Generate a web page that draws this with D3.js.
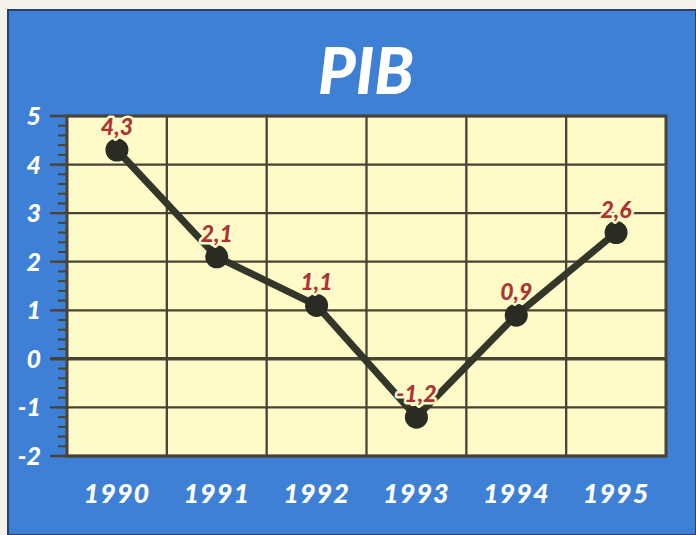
<!DOCTYPE html>
<html>
<head>
<meta charset="utf-8">
<script src="https://cdn.jsdelivr.net/npm/d3@7"></script>
<style>
  body { margin: 0; background: #f4f3ec; }
  svg { display: block; }
</style>
</head>
<body>
<div id="chart"></div>
<script>
// Data
//////////////////////////////////////////////////////////////////////
var years = ["1990", "1991", "1992", "1993", "1994", "1995"];
var values = [4.3, 2.1, 1.1, -1.2, 0.9, 2.6];
var yTicks = [-2, -1, 0, 1, 2, 3, 4, 5];

// Variables
//////////////////////////////////////////////////////////////////////
var width = 696, height = 535;
var blue = "#3d80d6";
var plotFill = "#fefbc8";
var gridColor = "#4a4234";
var lineColor = "#34362a";
var labelColor = "#ad3434";
var font = "Lato, 'Open Sans', sans-serif";
var plot = { left: 67, right: 666, top: 116, bottom: 456 };

var x = d3.scaleBand().domain(years).range([plot.left, plot.right]);
var y = d3.scaleLinear().domain([-2, 5]).range([plot.bottom, plot.top]);

var svg = d3.select("#chart").append("svg")
  .attr("width", width)
  .attr("height", height);

// blue panel
svg.append("rect")
  .attr("x", 8).attr("y", 10)
  .attr("width", width - 8).attr("height", height - 10)
  .attr("fill", blue)
  .attr("stroke", "#2c3f66").attr("stroke-width", 2);

// title
svg.append("text")
  .attr("x", 366).attr("y", 94)
  .attr("text-anchor", "middle")
  .attr("font-family", font)
  .attr("font-weight", 900)
  .attr("font-style", "italic")
  .attr("font-size", 64)
  .attr("fill", "#ffffff")
  .text("PIB");

// plot background
svg.append("rect")
  .attr("x", plot.left).attr("y", plot.top)
  .attr("width", plot.right - plot.left).attr("height", plot.bottom - plot.top)
  .attr("fill", plotFill);

// minor ticks on the left axis
var minor = d3.range(-2, 5.001, 0.2);
svg.append("g")
  .selectAll("line")
  .data(minor)
  .join("line")
  .attr("x1", plot.left - 9).attr("x2", plot.left)
  .attr("y1", d => y(d)).attr("y2", d => y(d))
  .attr("stroke", gridColor).attr("stroke-width", 2);

// horizontal grid + major ticks
svg.append("g")
  .selectAll("line")
  .data(yTicks)
  .join("line")
  .attr("x1", plot.left - 17).attr("x2", plot.right)
  .attr("y1", d => y(d)).attr("y2", d => y(d))
  .attr("stroke", gridColor)
  .attr("stroke-width", d => d === 0 ? 3.5 : 2.3);

// vertical grid (column boundaries)
svg.append("g")
  .selectAll("line")
  .data(years.slice(1))
  .join("line")
  .attr("x1", d => x(d)).attr("x2", d => x(d))
  .attr("y1", plot.top).attr("y2", plot.bottom)
  .attr("stroke", gridColor).attr("stroke-width", 2.3);

// plot border
svg.append("rect")
  .attr("x", plot.left).attr("y", plot.top)
  .attr("width", plot.right - plot.left).attr("height", plot.bottom - plot.top)
  .attr("fill", "none")
  .attr("stroke", gridColor).attr("stroke-width", 3);

// y labels
svg.append("g")
  .attr("font-family", font)
  .attr("font-weight", 900)
  .attr("font-style", "italic")
  .attr("font-size", 25)
  .attr("fill", "#ffffff")
  .attr("text-anchor", "end")
  .selectAll("text")
  .data(yTicks)
  .join("text")
  .attr("x", 41)
  .attr("y", d => y(d))
  .attr("dy", "0.36em")
  .text(d => d < 0 ? "-" + Math.abs(d) : d);

// x labels
svg.append("g")
  .attr("font-family", font)
  .attr("font-weight", 900)
  .attr("font-style", "italic")
  .attr("font-size", 27)
  .attr("fill", "#ffffff")
  .attr("text-anchor", "middle")
  .selectAll("text")
  .data(years)
  .join("text")
  .attr("x", d => x(d) + x.bandwidth() / 2)
  .attr("y", 503)
  .attr("letter-spacing", 1)
  .text(d => d);

// line
var line = d3.line()
  .x((d, i) => x(years[i]) + x.bandwidth() / 2)
  .y(d => y(d));

svg.append("path")
  .datum(values)
  .attr("d", line)
  .attr("fill", "none")
  .attr("stroke", lineColor)
  .attr("stroke-width", 7);

// points
svg.append("g")
  .selectAll("circle")
  .data(values)
  .join("circle")
  .attr("cx", (d, i) => x(years[i]) + x.bandwidth() / 2)
  .attr("cy", d => y(d))
  .attr("r", 11.5)
  .attr("fill", "#2a2c24");

// value labels
svg.append("g")
  .attr("font-family", font)
  .attr("font-weight", 900)
  .attr("font-style", "italic")
  .attr("font-size", 23)
  .attr("text-anchor", "middle")
  .selectAll("text")
  .data(values)
  .join("text")
  .attr("x", (d, i) => x(years[i]) + x.bandwidth() / 2)
  .attr("y", d => y(d) - 15)
  .attr("fill", labelColor)
  .attr("stroke", plotFill)
  .attr("stroke-width", 5)
  .attr("stroke-linejoin", "round")
  .attr("paint-order", "stroke")
  .text(d => String(d).replace(".", ","));
</script>
</body>
</html>
